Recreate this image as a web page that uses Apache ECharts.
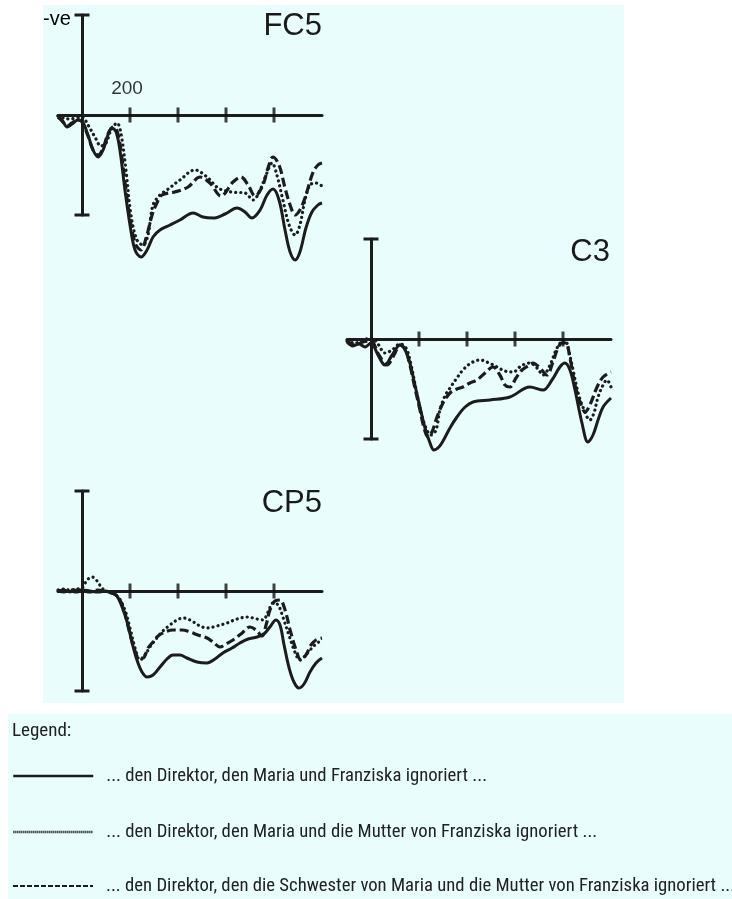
<!DOCTYPE html>
<html>
<head>
<meta charset="utf-8">
<script src="https://cdn.jsdelivr.net/npm/echarts@6/dist/echarts.min.js"></script>
<style>
html,body{margin:0;padding:0;background:#ffffff;}
#chart{width:732px;height:899px;}
</style>
</head>
<body>
<div id="chart"></div>
<script>
// ---- data (time in ms, amplitude in µV, positive plotted downward) ----
const conditions = [
  '... den Direktor, den Maria und Franziska ignoriert ...',
  '... den Direktor, den Maria und die Mutter von Franziska ignoriert ...',
  '... den Direktor, den die Schwester von Maria und die Mutter von Franziska ignoriert ...'
];
const panelNames = ['FC5', 'C3', 'CP5'];
const tickMs = [200, 400, 600, 800];
const labelledTick = 200;

const fc5Solid = [[-100,0.1],[-83,0.25],[-62,0.6],[-42,0.45],[-17,0.25],[0,0.3],[25,1.0],[46,1.75],[67,2.1],[88,1.75],[108,1.0],[125,0.65],[142,0.85],[158,1.75],[179,3.75],[200,5.5],[221,6.75],[246,7.1],[271,6.75],[296,6.1],[325,5.75],[367,5.5],[408,5.25],[463,4.9],[504,5.1],[546,5.15],[596,4.95],[646,4.65],[679,4.85],[708,5.15],[742,4.75],[771,4.0],[796,3.7],[821,4.25],[846,5.75],[867,6.85],[888,7.25],[908,6.85],[933,5.65],[958,4.85],[983,4.5],[1000,4.4]];
const fc5Dotted = [[-100,0.05],[-75,0.15],[-50,0.2],[-25,0.15],[0,0.1],[25,0.5],[54,1.1],[79,1.55],[100,1.4],[121,0.75],[146,0.4],[162,0.9],[183,2.75],[204,5.0],[229,6.25],[254,6.5],[275,6.0],[296,4.5],[325,4.0],[354,3.75],[408,3.25],[471,2.75],[521,3.1],[567,3.65],[621,3.85],[679,3.9],[713,4.25],[742,3.75],[767,3.0],[792,2.4],[812,3.0],[837,4.25],[863,5.5],[888,6.0],[908,5.5],[929,4.25],[950,3.5],[975,3.4],[1000,3.55]];
const fc5Dashed = [[-100,0.1],[-83,0.3],[-62,0.55],[-42,0.4],[-17,0.25],[0,0.35],[25,1.05],[46,1.75],[67,2.0],[88,1.65],[108,0.95],[129,0.6],[146,0.8],[162,1.75],[183,3.75],[204,5.5],[225,6.5],[246,6.75],[267,6.15],[292,5.0],[312,4.4],[333,4.0],[387,3.85],[442,3.6],[492,3.1],[533,3.4],[579,4.05],[629,3.35],[662,3.1],[692,3.5],[721,4.05],[754,3.5],[775,2.65],[796,2.1],[821,2.5],[846,3.65],[867,4.5],[888,5.0],[908,4.75],[929,4.15],[963,2.85],[983,2.5],[1000,2.4]];

const c3Solid = [[-100,0.15],[-75,0.35],[-50,0.25],[-25,0.4],[0,0.2],[29,0.8],[58,1.3],[88,0.8],[121,0.3],[142,0.55],[162,1.2],[183,2.3],[204,3.4],[225,4.45],[246,5.2],[262,5.55],[283,5.4],[300,5.1],[329,4.45],[358,3.9],[392,3.4],[425,3.15],[496,3.05],[579,2.9],[662,2.4],[717,2.55],[754,2.05],[787,1.4],[808,1.2],[829,1.55],[850,2.55],[879,4.2],[904,5.15],[925,4.8],[946,4.05],[967,3.4],[1000,2.95]];
const c3Dotted = [[-100,0.1],[-67,0.2],[-33,0.05],[0,-0.05],[29,0.25],[58,0.7],[88,0.55],[121,0.25],[146,0.45],[167,1.3],[188,2.55],[208,3.65],[229,4.45],[250,4.8],[271,4.55],[287,3.55],[308,2.85],[329,2.45],[358,1.95],[383,1.55],[417,1.2],[454,1.05],[492,1.2],[525,1.4],[558,1.6],[592,1.65],[625,1.35],[662,1.2],[692,1.45],[717,1.8],[746,1.3],[771,0.55],[792,0.15],[808,0.05],[825,0.65],[842,1.55],[862,2.65],[883,3.4],[912,4.05],[929,3.7],[946,2.9],[967,2.3],[983,2.05],[1000,2.4]];
const c3Dashed = [[-100,0.1],[-67,0.3],[-33,0.15],[0,0.1],[33,0.8],[67,1.3],[96,0.8],[121,0.3],[142,0.5],[162,1.3],[183,2.45],[204,3.55],[221,4.45],[237,4.9],[254,4.65],[275,3.9],[300,3.2],[329,2.7],[358,2.5],[383,2.4],[412,2.2],[442,2.05],[475,1.7],[508,1.4],[537,1.8],[558,2.3],[579,2.4],[604,1.95],[629,1.55],[654,1.35],[675,1.2],[704,1.45],[733,1.8],[758,1.15],[779,0.45],[796,0.2],[812,0.2],[829,0.95],[850,2.3],[871,3.15],[892,3.65],[912,3.3],[942,2.4],[967,1.9],[1000,1.65]];

const cp5Solid = [[-100,0],[-75,-0.05],[-50,0.05],[-25,-0.05],[0,-0.05],[33,0],[67,0.05],[100,0],[125,0.1],[146,0.25],[167,0.8],[188,1.55],[208,2.55],[229,3.45],[250,4.05],[271,4.3],[296,4.2],[325,3.8],[354,3.4],[379,3.2],[408,3.2],[437,3.35],[479,3.55],[521,3.6],[554,3.4],[587,3.1],[625,2.85],[658,2.6],[692,2.4],[729,2.3],[758,2.15],[783,1.8],[808,1.45],[825,1.7],[842,2.7],[862,3.8],[883,4.55],[904,4.85],[925,4.65],[950,4.05],[975,3.6],[1000,3.35]];
const cp5Dotted = [[-100,-0.05],[-75,-0.1],[-50,-0.05],[-25,-0.1],[0,-0.15],[21,-0.55],[42,-0.7],[63,-0.5],[83,-0.15],[108,0.05],[133,0.15],[154,0.35],[179,0.95],[200,1.85],[221,2.85],[242,3.45],[262,3.2],[283,2.8],[312,2.35],[337,2.0],[367,1.7],[396,1.45],[421,1.35],[450,1.45],[492,1.75],[521,1.85],[562,1.75],[604,1.6],[646,1.4],[688,1.3],[729,1.4],[754,1.45],[775,1.05],[796,0.6],[817,0.7],[837,1.3],[862,2.2],[887,3.05],[908,3.45],[929,3.25],[950,2.95],[975,2.65],[1000,2.45]];
const cp5Dashed = [[-100,0],[-75,0.05],[-50,-0.05],[-25,0.05],[0,0],[33,0.05],[67,-0.05],[100,0.05],[125,0.1],[150,0.3],[175,0.95],[196,1.95],[217,2.85],[237,3.35],[254,3.35],[275,2.85],[296,2.55],[317,2.25],[346,2.05],[379,1.95],[417,1.95],[450,2.05],[483,2.2],[521,2.35],[550,2.6],[575,2.8],[600,2.65],[629,2.45],[662,2.15],[700,1.8],[725,1.95],[750,2.25],[767,1.7],[783,0.95],[804,0.5],[825,0.45],[846,0.95],[867,1.95],[892,2.95],[912,3.45],[933,3.2],[954,2.7],[975,2.45],[1000,2.35]];

const panelData = [
  [fc5Solid, fc5Dotted, fc5Dashed],
  [c3Solid, c3Dotted, c3Dashed],
  [cp5Solid, cp5Dotted, cp5Dashed]
];
const xRange = [-100, 1000];
const yRange = [-5, 5];

// ---- styling / layout ----
const INK = '#1c1c1c';
const BG = '#eafdfd';
const NARROW = '"Roboto Condensed", "DejaVu Sans Condensed", sans-serif';
const grids = [
  {left: 58, top: 15, width: 264, height: 200},
  {left: 347, top: 239, width: 264, height: 200},
  {left: 58, top: 491, width: 264, height: 200}
];
const labelPos = [[322, 26], [610, 252], [322, 503]];
const lineStyles = [
  {color: INK, width: 3, type: 'solid'},
  {color: INK, width: 3.2, type: [0.1, 5], cap: 'round'},
  {color: INK, width: 3.2, type: [9, 4], cap: 'butt'}
];
const legendLineStyles = [
  {color: INK, width: 2.5, type: 'solid'},
  {color: INK, width: 2.5, type: [1.2, 0.8], cap: 'butt'},
  {color: INK, width: 2, type: [5, 2], cap: 'butt'}
];
const legendRows = [765, 821, 875];

const xAxes = [], yAxes = [], series = [];
grids.forEach((g, i) => {
  xAxes.push({
    type: 'value', gridIndex: i, min: xRange[0], max: xRange[1],
    axisLine: {show: true, onZero: true, lineStyle: {color: INK, width: 3}},
    axisTick: {show: false}, axisLabel: {show: false}, splitLine: {show: false}
  });
  yAxes.push({
    type: 'value', gridIndex: i, min: yRange[0], max: yRange[1], inverse: true,
    axisLine: {show: true, onZero: true, symbol: ['rect', 'rect'], symbolSize: [15, 3],
               lineStyle: {color: INK, width: 3}},
    axisTick: {show: false}, axisLabel: {show: false}, splitLine: {show: false}
  });
  panelData[i].forEach((d, k) => {
    series.push({
      name: conditions[k], type: 'line', xAxisIndex: i, yAxisIndex: i,
      data: d, smooth: 0.35, showSymbol: false, symbol: 'none', clip: false,
      lineStyle: lineStyles[k], itemStyle: {color: INK}, z: 5 - k,
      animation: false
    });
  });
  series.push({
    type: 'scatter', xAxisIndex: i, yAxisIndex: i,
    data: tickMs.map(t => [t, 0]), symbol: 'rect', symbolSize: [3, 15],
    itemStyle: {color: '#111'}, silent: true, animation: false, z: 6,
    label: {
      show: i === 0, position: 'top', distance: 9, color: '#000',
      fontFamily: 'Liberation Sans', fontSize: 19, offset: [-3, 0],
      formatter: p => (p.value[0] === labelledTick ? String(labelledTick) : '')
    }
  });
});

const graphics = [
  {type: 'rect', shape: {x: 43, y: 5, width: 581, height: 698}, style: {fill: BG}, z: -10, silent: true},
  {type: 'rect', shape: {x: 8, y: 714, width: 724, height: 185}, style: {fill: BG}, z: -10, silent: true},
  {type: 'text', x: 43, y: 19, style: {text: '-ve', fill: '#000', font: '20px "Liberation Sans"', textVerticalAlign: 'middle'}},
  {type: 'text', x: 12, y: 731, style: {text: 'Legend:', fill: '#222', font: '19px ' + NARROW, textVerticalAlign: 'middle'}}
];
panelNames.forEach((n, i) => {
  graphics.push({type: 'text', x: labelPos[i][0], y: labelPos[i][1],
    style: {text: n, fill: '#1a1a1a', font: '31px "Liberation Sans"', textAlign: 'right', textVerticalAlign: 'middle'}});
});

const legends = conditions.map((c, k) => ({
  data: [{name: c, itemStyle: {opacity: 0}, lineStyle: legendLineStyles[k]}],
  orient: 'horizontal', left: 12, top: legendRows[k], padding: 0,
  itemWidth: 80, itemHeight: 14, selectedMode: false,
  itemStyle: {opacity: 0},
  textStyle: {color: '#222', fontSize: 18.7, lineHeight: 22, fontFamily: NARROW,
              padding: [0, 0, 0, 8]}
}));

const chart = echarts.init(document.getElementById('chart'), null, {renderer: 'canvas'});
chart.setOption({
  animation: false,
  backgroundColor: '#ffffff',
  grid: grids,
  xAxis: xAxes,
  yAxis: yAxes,
  series: series,
  graphic: graphics,
  legend: legends
});
</script>
</body>
</html>
